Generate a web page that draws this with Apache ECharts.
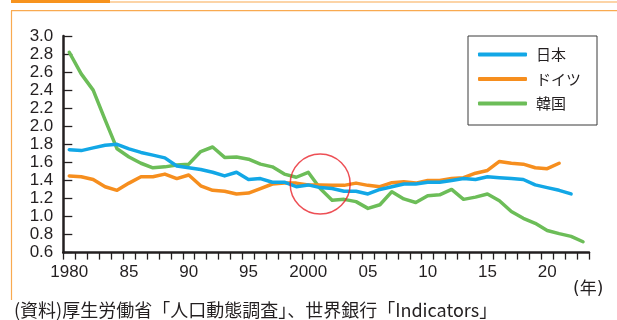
<!DOCTYPE html>
<html>
<head>
<meta charset="utf-8">
<script src="https://cdn.jsdelivr.net/npm/echarts@6/dist/echarts.min.js"></script>
<style>
  html, body { margin: 0; padding: 0; background: #ffffff; }
  #chart { width: 617px; height: 320px; }
</style>
</head>
<body>
<div id="chart"></div>
<script>
// Total fertility rate, 1980–2023
const years = [
  '1980','1981','1982','1983','1984','1985','1986','1987','1988','1989',
  '1990','1991','1992','1993','1994','1995','1996','1997','1998','1999',
  '2000','2001','2002','2003','2004','2005','2006','2007','2008','2009',
  '2010','2011','2012','2013','2014','2015','2016','2017','2018','2019',
  '2020','2021','2022','2023'
];

// Short tick labels shown every five years
const yearTickLabels = {
  '1980': '1980', '1985': '85', '1990': '90', '1995': '95', '2000': '2000',
  '2005': '05', '2010': '10', '2015': '15', '2020': '20'
};

const seriesNames = ['日本', 'ドイツ', '韓国'];

const japan = [
  1.74, 1.73, 1.76, 1.79, 1.80, 1.75, 1.71, 1.68, 1.65, 1.56,
  1.54, 1.52, 1.49, 1.45, 1.49, 1.41, 1.42, 1.38, 1.38, 1.33,
  1.35, 1.32, 1.31, 1.28, 1.28, 1.25, 1.30, 1.33, 1.36, 1.36,
  1.38, 1.38, 1.40, 1.42, 1.41, 1.44, 1.43, 1.42, 1.41, 1.35,
  1.32, 1.29, 1.25
];

const germany = [
  1.45, 1.44, 1.41, 1.33, 1.29, 1.37, 1.44, 1.44, 1.47, 1.42,
  1.46, 1.34, 1.29, 1.28, 1.25, 1.26, 1.31, 1.36, 1.37, 1.37,
  1.35, 1.35, 1.345, 1.345, 1.37, 1.345, 1.33, 1.375, 1.385, 1.37,
  1.40, 1.40, 1.42, 1.43, 1.48, 1.51, 1.61, 1.59, 1.58, 1.54,
  1.53, 1.59
];

const korea = [
  2.82, 2.58, 2.40, 2.07, 1.75, 1.66, 1.59, 1.54, 1.55, 1.57,
  1.58, 1.72, 1.77, 1.655, 1.66, 1.635, 1.58, 1.55, 1.47, 1.435,
  1.49, 1.31, 1.18, 1.19, 1.165, 1.09, 1.13, 1.275, 1.195, 1.155,
  1.23, 1.24, 1.30, 1.19, 1.215, 1.25, 1.175, 1.055, 0.98, 0.925,
  0.845, 0.81, 0.78, 0.72
];

// Circled point of interest (year, value)
const highlight = ['2001', 1.36];

const yMin = 0.6, yMax = 3.0, yStep = 0.2;

const ink = '#231f20';
const colors = ['#12a7e6', '#f68e1e', '#6cbd58'];
const frameOrange = '#f7931e';
const frameLight = '#f9aa50';

const chart = echarts.init(document.getElementById('chart'), null, { renderer: 'canvas' });

const lineSeries = [japan, germany, korea].map((values, i) => ({
  name: seriesNames[i],
  type: 'line',
  data: values,
  symbol: 'none',
  smooth: false,
  lineStyle: { width: 3.5, color: colors[i], cap: 'round', join: 'round' },
  itemStyle: { color: colors[i] },
  z: 3 + (2 - i)
}));

chart.setOption({
  animation: false,
  backgroundColor: '#ffffff',
  grid: { left: 63.3, right: 28, top: 36, bottom: 67.4, containLabel: false },
  legend: {
    data: seriesNames,
    orient: 'vertical',
    left: 468,
    top: 36,
    padding: [11, 16, 14, 10],
    icon: 'roundRect',
    itemWidth: 49,
    itemHeight: 4,
    itemGap: 9.5,
    borderColor: '#3a3a3a',
    borderWidth: 1,
    textStyle: {
      fontFamily: '"Noto Sans CJK JP", sans-serif',
      fontSize: 15,
      lineHeight: 14,
      color: ink,
      padding: [0, 0, 0, 4]
    }
  },
  xAxis: {
    type: 'category',
    data: years,
    boundaryGap: true,
    axisLine: { show: true, lineStyle: { color: ink, width: 2.5 } },
    axisTick: { show: true, interval: 0, inside: false, length: 7, lineStyle: { color: ink, width: 1.3 } },
    axisLabel: {
      interval: 0,
      margin: 11,
      fontSize: 17,
      fontFamily: '"Liberation Sans", Arial, sans-serif',
      color: ink,
      formatter: v => yearTickLabels[v] || ''
    },
    splitLine: { show: false }
  },
  yAxis: {
    type: 'value',
    min: yMin,
    max: yMax,
    interval: yStep,
    axisLine: { show: true, lineStyle: { color: ink, width: 2.5 } },
    axisTick: { show: true, inside: true, length: 9, lineStyle: { color: ink, width: 1.3 } },
    axisLabel: {
      margin: 10,
      fontSize: 17,
      fontFamily: '"Liberation Sans", Arial, sans-serif',
      color: ink,
      formatter: v => Number(v).toFixed(1)
    },
    splitLine: { show: false }
  },
  series: lineSeries.concat([{
    name: 'highlight',
    type: 'scatter',
    data: [highlight],
    symbol: 'circle',
    symbolSize: 60,
    silent: true,
    itemStyle: { color: 'rgba(0,0,0,0)', borderColor: '#e8232b', borderWidth: 1.5 },
    z: 10
  }]),
  graphic: [
    { type: 'rect', shape: { x: 11, y: 0, width: 99, height: 3 }, style: { fill: frameOrange }, silent: true },
    { type: 'line', shape: { x1: 110, y1: 2, x2: 617, y2: 2 }, style: { stroke: frameLight, lineWidth: 1.2 }, silent: true },
    { type: 'line', shape: { x1: 11, y1: 10.7, x2: 617, y2: 10.7 }, style: { stroke: frameLight, lineWidth: 1.2 }, silent: true },
    { type: 'line', shape: { x1: 11.5, y1: 10.7, x2: 11.5, y2: 300 }, style: { stroke: frameLight, lineWidth: 1.2 }, silent: true },
    {
      type: 'text', left: 573, top: 281, silent: true,
      style: { text: '(年)', fontSize: 17, fontFamily: '"DejaVu Sans", "Noto Sans CJK JP", sans-serif', fill: ink }
    },
    {
      type: 'text', left: 14, top: 301, silent: true,
      style: {
        text: '(資料)厚生労働省「人口動態調査」、世界銀行「Indicators」',
        fontSize: 18, fontFamily: '"Noto Sans CJK JP", sans-serif', fill: ink
      }
    }
  ]
});
</script>
</body>
</html>
